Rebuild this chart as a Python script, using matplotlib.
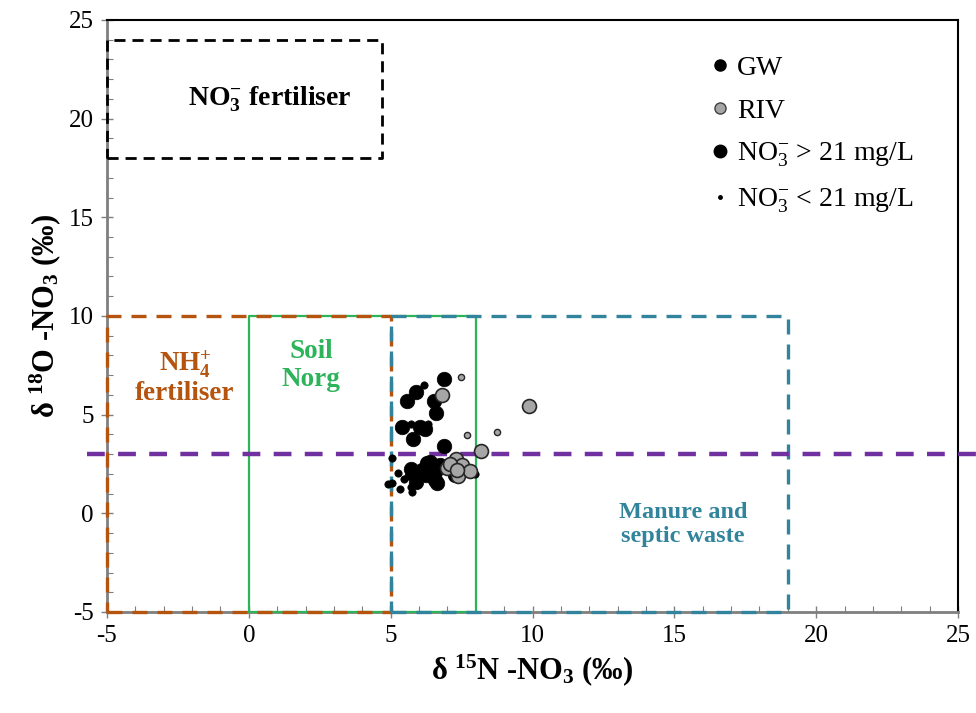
import matplotlib
matplotlib.use("Agg")
import matplotlib.pyplot as plt
from matplotlib.lines import Line2D
from matplotlib.ticker import MultipleLocator

plt.rcParams['font.family'] = ['Liberation Serif', 'DejaVu Serif']
plt.rcParams['mathtext.default'] = 'regular'
plt.rcParams['axes.unicode_minus'] = False

# ---- data ----
gw_large_x = [6.89, 5.89, 5.57, 6.53, 6.60, 5.40, 6.03, 6.21, 5.77, 6.89, 5.70, 6.27, 6.40, 6.55, 6.25, 6.55, 6.62, 6.10, 7.27, 6.40, 5.90, 6.75]
gw_large_y = [6.79, 6.15, 5.67, 5.67, 5.10, 4.39, 4.39, 4.25, 3.75, 3.41, 2.23, 2.53, 2.30, 2.10, 1.95, 1.70, 1.52, 2.20, 1.92, 2.60, 1.60, 2.45]
gw_small_x = [6.18, 5.72, 5.03, 5.27, 5.48, 4.92, 5.33, 5.70, 5.74, 5.05, 7.97, 6.00, 5.60, 6.30]
gw_small_y = [6.48, 4.52, 2.79, 2.03, 1.74, 1.48, 1.21, 1.35, 1.09, 1.55, 1.99, 1.80, 1.90, 4.50]
riv_large_x = [6.82, 9.88, 8.18, 7.30, 7.50, 6.97, 7.38, 7.80, 7.10, 7.35]
riv_large_y = [6.01, 5.45, 3.17, 2.73, 2.45, 2.28, 1.90, 2.16, 2.50, 2.20]
riv_small_x = [7.48, 7.68, 8.75]
riv_small_y = [6.89, 3.98, 4.10]

# source boxes: (x0, x1, y0, y1)
box_no3 = (-5, 4.7, 18, 24)
box_nh4 = (-5, 5, -5, 10)
box_soil = (0, 8, -5, 10)
box_manure = (5, 19, -5, 10)
o18_threshold = 3

c_brown = '#B4540F'
c_green = '#2DB35A'
c_teal = '#31849B'
c_purple = '#7030A0'

fig = plt.figure(figsize=(9.76, 7.13), dpi=100)
ax = fig.add_axes([0.1096, 0.1417, 0.8720, 0.8303])
ax.set_xlim(-5, 25)
ax.set_ylim(-5, 25)


def rect(b, **kw):
    x0, x1, y0, y1 = b
    ax.plot([x0, x1, x1, x0, x0], [y0, y0, y1, y1, y0], clip_on=False, **kw)


rect(box_no3, color='black', lw=2.0, dashes=(4, 2.5), zorder=3)
rect(box_soil, color=c_green, lw=1.6, zorder=3)
rect(box_nh4, color=c_brown, lw=2.4, dashes=(4.5, 3), zorder=3)
rect(box_manure, color=c_teal, lw=2.4, dashes=(4.5, 3), zorder=3)

ax.plot([-5.7, 25.7], [o18_threshold, o18_threshold], color=c_purple, lw=3.2,
        dashes=(4, 3), clip_on=False, zorder=4)

ax.scatter(gw_large_x, gw_large_y, s=110, c='black', edgecolors='black', lw=0.5, zorder=5)
ax.scatter(gw_small_x, gw_small_y, s=28, c='black', edgecolors='black', lw=0.5, zorder=5)
ax.scatter(riv_large_x, riv_large_y, s=100, c='#A6A6A6', edgecolors='#262626', lw=1.2, zorder=6)
ax.scatter(riv_small_x, riv_small_y, s=20, c='#A6A6A6', edgecolors='#262626', lw=1.0, zorder=6)

# labels in boxes
ax.text(0.75, 21.0, r'NO$_3^{-}$ fertiliser', ha='center', va='center', fontsize=20,
        fontweight='bold', color='black')
ax.text(-2.25, 6.9, 'NH$_4^{+}$\nfertiliser', ha='center', va='center', fontsize=19.5,
        fontweight='bold', color=c_brown, linespacing=1.05)
ax.text(2.2, 7.5, 'Soil\nNorg', ha='center', va='center', fontsize=19.5,
        fontweight='bold', color=c_green, linespacing=1.15)
ax.text(15.3, -0.55, 'Manure and\nseptic waste', ha='center', va='center', fontsize=17.5,
        fontweight='bold', color=c_teal, linespacing=1.2)

# axes styling
ax.xaxis.set_major_locator(MultipleLocator(5))
ax.yaxis.set_major_locator(MultipleLocator(5))
ax.xaxis.set_minor_locator(MultipleLocator(1))
ax.yaxis.set_minor_locator(MultipleLocator(1))
ax.tick_params(which='major', direction='inout', length=9, width=1.0, color='#7F7F7F',
               labelsize=18, pad=5)
ax.tick_params(which='minor', direction='in', length=4, width=0.8, color='#7F7F7F')
for side in ['left', 'bottom']:
    ax.spines[side].set_color('#7F7F7F')
    ax.spines[side].set_linewidth(2.0)
for side in ['top', 'right']:
    ax.spines[side].set_color('black')
    ax.spines[side].set_linewidth(1.5)

ax.set_xlabel(r'δ $^{15}$N -NO$_3$ (‰)', fontsize=22, fontweight='bold', labelpad=4)
ax.set_ylabel(r'δ $^{18}$O -NO$_3$ (‰)', fontsize=22, fontweight='bold', labelpad=4)

handles = [
    Line2D([], [], ls='none', marker='o', ms=8, mfc='black', mec='black'),
    Line2D([], [], ls='none', marker='o', ms=8, mfc='#A6A6A6', mec='#404040'),
    Line2D([], [], ls='none', marker='o', ms=9, mfc='black', mec='black'),
    Line2D([], [], ls='none', marker='o', ms=2.5, mfc='black', mec='black'),
]
labels = ['GW', 'RIV', r'NO$_3^{-}$ > 21 mg/L', r'NO$_3^{-}$ < 21 mg/L']
ax.legend(handles, labels, loc='upper left', bbox_to_anchor=(0.711, 0.940), frameon=False,
          fontsize=20, handlelength=0.6, handletextpad=0.3, labelspacing=0.62,
          borderaxespad=0, borderpad=0)

fig.savefig('out.png', dpi=100)
